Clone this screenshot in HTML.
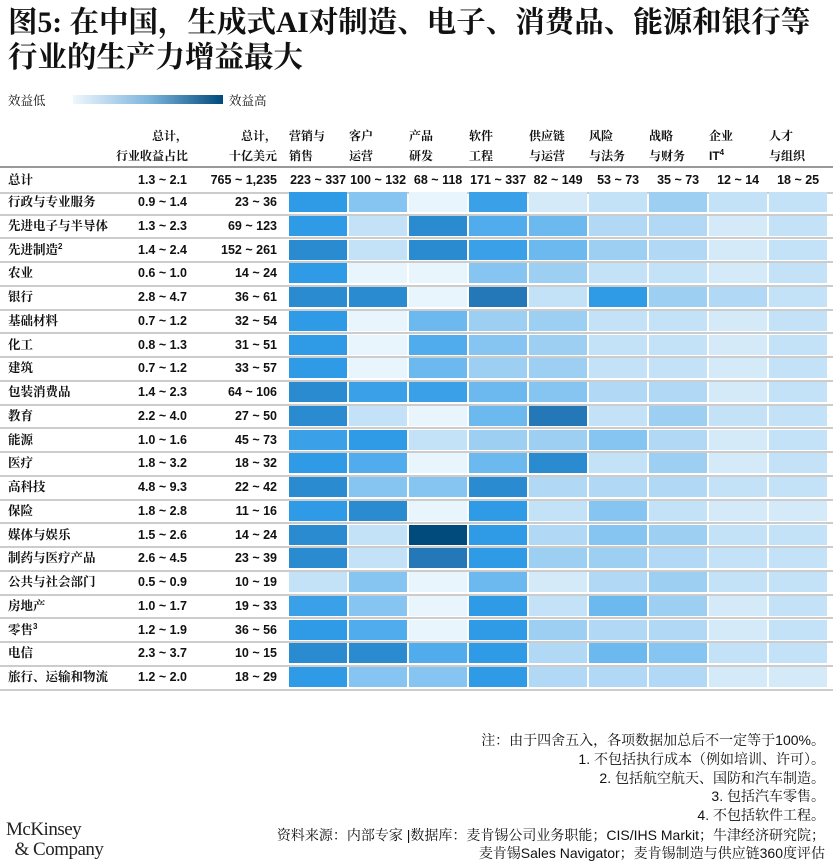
<!DOCTYPE html>
<html><head><meta charset="utf-8"><style>
*{margin:0;padding:0;box-sizing:border-box}
body{width:833px;height:868px;background:#fff;position:relative;overflow:hidden;font-family:"Liberation Sans","Noto Sans CJK SC",sans-serif;color:#111}
.a{position:absolute;white-space:nowrap}
.t{font-family:"Liberation Serif","Noto Serif CJK SC",serif;font-weight:bold;font-size:29.5px;left:8px;line-height:34px}
.cj{font-family:"Liberation Sans","Noto Serif CJK SC",serif;font-weight:bold;font-size:12.5px;line-height:18px}
.n{font-weight:bold;font-size:12.5px;line-height:18px}
.hd{font-family:"Liberation Sans","Noto Serif CJK SC",serif;font-weight:bold;font-size:12px;line-height:20px}
.c{position:absolute;height:20px;width:58.5px}
.ln{position:absolute;left:0;width:833px;height:2px;background:#ccc}
.fn{font-family:"Liberation Sans","Noto Serif CJK SC",serif;font-size:14px;line-height:18px;right:8px;text-align:right}
.sp{font-size:8px;position:relative;top:-5px;line-height:0}
</style></head><body>
<div class="a t" style="top:6px">图5: 在中国，生成式AI对制造、电子、消费品、能源和银行等</div>
<div class="a t" style="top:41px">行业的生产力增益最大</div>
<div class="a cj" style="left:8px;top:92px;font-weight:normal">效益低</div>
<div class="a" style="left:73px;top:95px;width:150px;height:9px;background:linear-gradient(90deg,#eef7fd,#7fb6dc,#004a7c)"></div>
<div class="a cj" style="left:229px;top:92px;font-weight:normal">效益高</div>
<div class="a hd" style="right:645px;top:126px;text-align:right">总计，<br>行业收益占比</div>
<div class="a hd" style="right:556px;top:126px;text-align:right">总计，<br>十亿美元</div>
<div class="a hd" style="left:289px;top:126px">营销与<br>销售</div>
<div class="a hd" style="left:349px;top:126px">客户<br>运营</div>
<div class="a hd" style="left:409px;top:126px">产品<br>研发</div>
<div class="a hd" style="left:469px;top:126px">软件<br>工程</div>
<div class="a hd" style="left:529px;top:126px">供应链<br>与运营</div>
<div class="a hd" style="left:589px;top:126px">风险<br>与法务</div>
<div class="a hd" style="left:649px;top:126px">战略<br>与财务</div>
<div class="a hd" style="left:709px;top:126px">企业<br>IT<span class="sp">4</span></div>
<div class="a hd" style="left:769px;top:126px">人才<br>与组织</div>
<div class="ln" style="top:166px;background:#999"></div>
<div id="g"></div>
<div class="a fn" style="top:731px">注：由于四舍五入，各项数据加总后不一定等于100%。</div>
<div class="a fn" style="top:750px">1. 不包括执行成本（例如培训、许可）。</div>
<div class="a fn" style="top:769px">2. 包括航空航天、国防和汽车制造。</div>
<div class="a fn" style="top:787px">3. 包括汽车零售。</div>
<div class="a fn" style="top:806px">4. 不包括软件工程。</div>
<div class="a fn" style="top:826px">资料来源：内部专家 |数据库：麦肯锡公司业务职能；CIS/IHS Markit；牛津经济研究院；</div>
<div class="a fn" style="top:844px">麦肯锡Sales Navigator；麦肯锡制造与供应链360度评估</div>
<div class="a" style="left:6px;top:820px;font-family:'Liberation Serif',serif;font-size:19px;line-height:20px;color:#222;letter-spacing:-0.5px">McKinsey<br>&nbsp;&nbsp;&amp; Company</div>
<script>
var P=["#e8f5fd","#d4eaf9","#c3e2f8","#b1d9f5","#9dcff3","#86c4f1","#6cb9ef","#50acec","#3aa1e8","#2f9be6","#2b8bd0","#2578b8","#004a7c"];
var R=[["总计","1.3 ~ 2.1","765 ~ 1,235"],
["行政与专业服务","0.9 ~ 1.4","23 ~ 36",[9,5,0,8,1,2,4,2,2]],
["先进电子与半导体","1.3 ~ 2.3","69 ~ 123",[9,2,10,7,6,3,3,1,2]],
["先进制造<span class='sp'>2</span>","1.4 ~ 2.4","152 ~ 261",[10,2,10,8,6,4,3,1,2]],
["农业","0.6 ~ 1.0","14 ~ 24",[9,0,0,5,4,2,2,1,2]],
["银行","2.8 ~ 4.7","36 ~ 61",[10,10,0,11,2,9,4,3,2]],
["基础材料","0.7 ~ 1.2","32 ~ 54",[9,0,6,4,4,2,2,1,2]],
["化工","0.8 ~ 1.3","31 ~ 51",[9,0,7,5,4,2,2,1,2]],
["建筑","0.7 ~ 1.2","33 ~ 57",[9,0,6,4,4,2,2,1,2]],
["包装消费品","1.4 ~ 2.3","64 ~ 106",[10,8,8,6,5,3,3,1,2]],
["教育","2.2 ~ 4.0","27 ~ 50",[10,2,0,6,11,2,4,2,2]],
["能源","1.0 ~ 1.6","45 ~ 73",[8,9,2,4,4,5,3,1,2]],
["医疗","1.8 ~ 3.2","18 ~ 32",[9,7,0,6,10,2,4,1,2]],
["高科技","4.8 ~ 9.3","22 ~ 42",[10,5,5,10,3,3,3,2,2]],
["保险","1.8 ~ 2.8","11 ~ 16",[9,10,0,9,2,5,2,1,1]],
["媒体与娱乐","1.5 ~ 2.6","14 ~ 24",[10,2,12,9,3,5,4,2,2]],
["制药与医疗产品","2.6 ~ 4.5","23 ~ 39",[10,2,11,9,4,4,3,2,2]],
["公共与社会部门","0.5 ~ 0.9","10 ~ 19",[2,5,0,6,1,3,4,2,2]],
["房地产","1.0 ~ 1.7","19 ~ 33",[8,5,0,9,2,6,4,1,2]],
["零售<span class='sp'>3</span>","1.2 ~ 1.9","36 ~ 56",[9,7,0,9,4,3,3,1,2]],
["电信","2.3 ~ 3.7","10 ~ 15",[10,10,7,9,3,6,5,2,2]],
["旅行、运输和物流","1.2 ~ 2.0","18 ~ 29",[9,5,5,9,3,3,3,1,1]]];
var T=["223 ~ 337","100 ~ 132","68 ~ 118","171 ~ 337","82 ~ 149","53 ~ 73","35 ~ 73","12 ~ 14","18 ~ 25"];
var h="";
for(var i=0;i<R.length;i++){
 var cy=i==0?180:202+23.75*(i-1), ty=cy-9;
 h+='<div class="a cj" style="left:8px;top:'+ty+'px">'+R[i][0]+'</div>';
 h+='<div class="a n" style="right:646px;top:'+ty+'px">'+R[i][1]+'</div>';
 h+='<div class="a n" style="right:556px;top:'+ty+'px">'+R[i][2]+'</div>';
 if(i==0){for(var k=0;k<9;k++)h+='<div class="a n" style="left:'+(288.6+60*k)+'px;width:59px;text-align:center;top:'+ty+'px">'+T[k]+'</div>';}
 else{for(var k=0;k<9;k++)h+='<div class="c" style="left:'+(288.6+60*k)+'px;top:'+(cy-10)+'px;background:'+P[R[i][3][k]]+'"></div>';}
 h+='<div class="ln" style="top:'+(cy+11.5)+'px"></div>';
}
document.getElementById("g").innerHTML=h;
</script>
</body></html>
